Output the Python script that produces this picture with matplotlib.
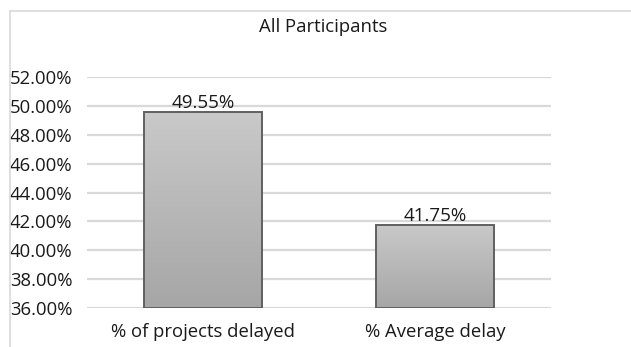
import matplotlib
matplotlib.use("Agg")
import matplotlib.pyplot as plt
import numpy as np
from matplotlib.lines import Line2D
from matplotlib.colors import LinearSegmentedColormap

categories = ["% of projects delayed", "% Average delay"]
values = [0.4955, 0.4175]
value_labels = ["49.55%", "41.75%"]
yticks = [0.36, 0.38, 0.40, 0.42, 0.44, 0.46, 0.48, 0.50, 0.52]
ytick_labels = ["36.00%", "38.00%", "40.00%", "42.00%", "44.00%", "46.00%", "48.00%", "50.00%", "52.00%"]
title = "All Participants"

plt.rcParams['font.family'] = ['Open Sans', 'DejaVu Sans']
txt_color = "#1a1a1a"

fig = plt.figure(figsize=(6.31, 3.47), dpi=100)
ax = fig.add_axes([87/631, 1-308/347, (551-87)/631, (308-77)/347])

ymin, ymax = 0.36, 0.52

grad = np.linspace(0, 1, 256).reshape(-1, 1)
cmap = LinearSegmentedColormap.from_list("g", ["#a6a6a6", "#c9c9c9"])

x = np.arange(len(categories))
bars = ax.bar(x, [v - ymin for v in values], bottom=ymin, width=0.505,
              facecolor="none", edgecolor="#606060", linewidth=1.4, zorder=3)
for b in bars:
    x0, y0 = b.get_x(), b.get_y()
    w, h = b.get_width(), b.get_height()
    im = ax.imshow(grad, cmap=cmap, aspect='auto', origin='lower',
                   extent=[x0, x0 + w, y0, y0 + h], zorder=2)
    im.set_clip_path(b)
ax.set_xlim(-0.5, 1.5)
ax.set_ylim(ymin, ymax)

for xi, v, lab in zip(x, values, value_labels):
    ax.annotate(lab, (xi, v), xytext=(0, 0), textcoords="offset points",
                ha="center", va="bottom", fontsize=13.5, color=txt_color)

ax.set_yticks(yticks)
ax.set_yticklabels(ytick_labels, ha="left", fontsize=13.3, color=txt_color)
ax.tick_params(axis="y", length=0, pad=77*0.72)
ax.set_xticks(x)
ax.set_xticklabels(categories, fontsize=13.3, color=txt_color)
ax.tick_params(axis="x", length=0, pad=11)

ax.grid(axis="y", color="#d9d9d9", linewidth=1.6, zorder=0)
ax.set_axisbelow(True)
for s in ax.spines.values():
    s.set_visible(False)

fig.text(323/631, 1-27/347, title, ha="center", va="center", fontsize=13.3, color=txt_color)

fig.add_artist(Line2D([10/631, 1], [1-11/347, 1-11/347], color="#d9d9d9", lw=1.2))
fig.add_artist(Line2D([10/631, 10/631], [0, 1-11/347], color="#d9d9d9", lw=1.2))

fig.savefig("out.png", dpi=100)
